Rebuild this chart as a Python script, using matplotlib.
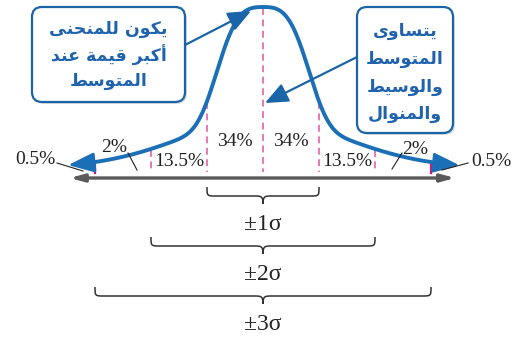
import numpy as np
import matplotlib
matplotlib.use("Agg")
import matplotlib.pyplot as plt
from matplotlib.patches import FancyBboxPatch, FancyArrowPatch, PathPatch
from matplotlib.path import Path

# ---------------- data ----------------
sigma_bounds = [-3, -2, -1, 0, 1, 2, 3]
region_labels = ["0.5%", "2%", "13.5%", "34%", "34%", "13.5%", "2%", "0.5%"]
region_label_z = [-4.07, -2.66, -1.50, -0.50, 0.50, 1.50, 2.71, 4.07]
brace_spans = [1, 2, 3]
brace_labels = ["±1σ", "±2σ", "±3σ"]
left_box_text = ["يكون للمنحنى", "أكبر قيمة عند", "المتوسط"]
right_box_text = ["يتساوى", "المتوسط", "والوسيط", "والمنوال"]

# ---------------- minimal Arabic shaping (presentation forms) ----------------
FORMS = {
    '\u0627': (0xFE8D, 0xFE8E), '\u0623': (0xFE83, 0xFE84),
    '\u0628': (0xFE8F, 0xFE90, 0xFE91, 0xFE92), '\u0629': (0xFE93, 0xFE94),
    '\u062A': (0xFE95, 0xFE96, 0xFE97, 0xFE98), '\u062D': (0xFEA1, 0xFEA2, 0xFEA3, 0xFEA4),
    '\u062F': (0xFEA9, 0xFEAA), '\u0631': (0xFEAD, 0xFEAE),
    '\u0633': (0xFEB1, 0xFEB2, 0xFEB3, 0xFEB4), '\u0637': (0xFEC1, 0xFEC2, 0xFEC3, 0xFEC4),
    '\u0639': (0xFEC9, 0xFECA, 0xFECB, 0xFECC), '\u0642': (0xFED5, 0xFED6, 0xFED7, 0xFED8),
    '\u0643': (0xFED9, 0xFEDA, 0xFEDB, 0xFEDC), '\u0644': (0xFEDD, 0xFEDE, 0xFEDF, 0xFEE0),
    '\u0645': (0xFEE1, 0xFEE2, 0xFEE3, 0xFEE4), '\u0646': (0xFEE5, 0xFEE6, 0xFEE7, 0xFEE8),
    '\u0648': (0xFEED, 0xFEEE), '\u0649': (0xFEEF, 0xFEF0),
    '\u064A': (0xFEF1, 0xFEF2, 0xFEF3, 0xFEF4),
}


def shape(text):
    out = []
    n = len(text)
    for i, ch in enumerate(text):
        f = FORMS.get(ch)
        if f is None:
            out.append(ch)
            continue
        prev = text[i - 1] if i > 0 else None
        nxt = text[i + 1] if i < n - 1 else None
        join_prev = prev in FORMS and len(FORMS[prev]) == 4
        join_next = len(f) == 4 and nxt in FORMS
        if join_prev and join_next:
            code = f[3]
        elif join_prev:
            code = f[1]
        elif join_next:
            code = f[2]
        else:
            code = f[0]
        out.append(chr(code))
    return "".join(out)[::-1]


# ---------------- figure ----------------
fig = plt.figure(figsize=(5.12, 3.38), dpi=100)
ax = fig.add_axes([0, 0, 1, 1])
PX = 56.0      # pixels per sigma
CX = 263.0     # pixel of mean
ax.set_xlim(-CX / PX, (512 - CX) / PX)
ax.set_ylim(338, 0)
ax.axis("off")

ov = fig.add_axes([0, 0, 1, 1])
ov.set_xlim(0, 512)
ov.set_ylim(338, 0)
ov.axis("off")
ov.patch.set_alpha(0)

serif = "Liberation Serif"
blue = "#1b6fb6"
pink = "#e4529f"
magenta = "#d9127a"
BASE, HEIGHT = 168.0, 161.0


def curve_y(z):
    z = np.abs(np.asarray(z, dtype=float))
    f = 0.7 * np.exp(-(z / 0.91) ** 3.4) + 0.3 * np.exp(-z ** 2 / 4.3)
    return BASE - HEIGHT * f


# bell curve
zc = np.linspace(-3.25, 3.28, 400)
ax.plot(zc, curve_y(zc), color=blue, lw=2.8, solid_capstyle="butt", zorder=4)
# arrowheads at both ends
for z_in, z_tip in [(-3.2, -3.48), (3.23, 3.51)]:
    ax.annotate("", xy=(z_tip, curve_y(z_tip)), xytext=(z_in, curve_y(z_in)),
                arrowprops=dict(arrowstyle="-|>,head_length=1.0,head_width=0.38",
                                mutation_scale=16, color=blue, lw=2.0,
                                shrinkA=0, shrinkB=0), zorder=5)

# dashed sigma lines
for z in sigma_bounds:
    if abs(z) < 3:
        ax.plot([z, z], [curve_y(z) + 1, 172], color=pink, lw=1.1,
                ls=(0, (4.5, 3)), zorder=3)
    else:
        ax.plot([z, z], [162, 173], color=magenta, lw=1.6, zorder=3)

# horizontal axis
ax.annotate("", xy=(-3.45, 178), xytext=(3.43, 178),
            arrowprops=dict(arrowstyle="<|-|>,head_length=0.8,head_width=0.22",
                            color="#5a5a5a", lw=2.4, shrinkA=0, shrinkB=0))

# percentage labels
label_y = [160, 148, 161, 142, 142, 162, 149, 162]
for z, t, y in zip(region_label_z, region_labels, label_y):
    ax.text(z, y, t, ha="center", va="center", fontsize=14, family=serif,
            color="#222222")

# leader lines for small regions
leaders = [((57, 163), (83, 171)), ((128, 153), (137, 170)),
           ((392, 169), (402, 153)), ((442, 170), (468, 163))]
for (x0, y0), (x1, y1) in leaders:
    ov.plot([x0, x1], [y0, y1], color="#222222", lw=0.8)


# braces
def brace(z0, z1, yt):
    r = 9 / PX
    yh, yp = yt + 9, yt + 17
    m = (z0 + z1) / 2
    verts = [(z0, yt), (z0, yh), (z0, yh), (z0 + r, yh),
             (m - r, yh), (m - 0.2 * r, yh), (m, yh), (m, yp),
             (m, yh), (m + 0.2 * r, yh), (m + r, yh),
             (z1 - r, yh), (z1, yh), (z1, yh), (z1, yt)]
    codes = [Path.MOVETO, Path.CURVE4, Path.CURVE4, Path.CURVE4,
             Path.LINETO, Path.CURVE4, Path.CURVE4, Path.CURVE4,
             Path.CURVE4, Path.CURVE4, Path.CURVE4,
             Path.LINETO, Path.CURVE4, Path.CURVE4, Path.CURVE4]
    ax.add_patch(PathPatch(Path(verts, codes), fill=False, ec="#333333", lw=1.1))


brace_tops = [187, 237, 287]
label_ys = [224, 274, 324]
for k, lab, yt, yl in zip(brace_spans, brace_labels, brace_tops, label_ys):
    brace(-k, k, yt)
    ax.text(0, yl, lab, ha="center", va="center", fontsize=17, family=serif,
            color="#222222")


# callout boxes
def box(x0, y0, x1, y1, lines, ys):
    sh = FancyBboxPatch((x0 + 2, y0 + 2), x1 - x0, y1 - y0,
                        boxstyle="round,pad=0,rounding_size=10",
                        fc="#bbbbbb", ec="none", alpha=0.5, zorder=5)
    ov.add_patch(sh)
    b = FancyBboxPatch((x0, y0), x1 - x0, y1 - y0,
                       boxstyle="round,pad=0,rounding_size=10",
                       fc="white", ec="#1a64a8", lw=1.6, zorder=6)
    ov.add_patch(b)
    cx = (x0 + x1) / 2
    for t, y in zip(lines, ys):
        ov.text(cx, y, shape(t), ha="center", va="center", fontsize=12.5,
                fontweight="bold", family="DejaVu Sans", color="#1f63ad", zorder=7)


box(32, 7, 185, 102, left_box_text, [29, 55, 81])
box(357, 7, 453, 133, right_box_text, [31, 59, 87, 114])

# callout arrows
for (x0, y0), (x1, y1) in [((185, 45), (251, 11)), ((357, 57), (265, 103))]:
    ov.add_patch(FancyArrowPatch((x0, y0), (x1, y1),
                                 arrowstyle="-|>,head_length=0.7,head_width=0.3",
                                 mutation_scale=20, color="#1a64a8", lw=1.6,
                                 shrinkA=0, shrinkB=0, zorder=8))

fig.savefig("out.png", dpi=100)
